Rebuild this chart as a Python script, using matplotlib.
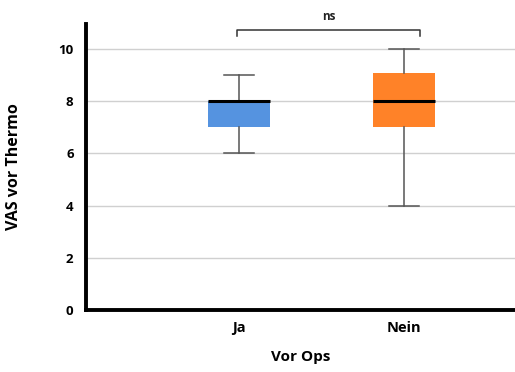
import matplotlib

matplotlib.use("Agg")
import matplotlib.pyplot as plt

plt.rcParams["font.family"] = ["Open Sans", "DejaVu Sans"]

groups = ["Ja", "Nein"]
whislo = [6, 4]
q1 = [7, 7]
med = [8, 8]
q3 = [8, 9.1]
whishi = [9, 10]
colors = ["#5593E0", "#FF8228"]
yticks = [0, 2, 4, 6, 8, 10]

fig = plt.figure(figsize=(5.15, 3.72), dpi=100)
ax = fig.add_axes([0.167, 0.167, 0.833, 0.768])

stats = []
for i, g in enumerate(groups):
    stats.append({"label": g, "whislo": whislo[i], "q1": q1[i], "med": med[i],
                  "q3": q3[i], "whishi": whishi[i], "fliers": []})

bp = ax.bxp(stats, positions=[1, 2], widths=0.38, patch_artist=True,
            showfliers=False,
            boxprops=dict(linewidth=0),
            medianprops=dict(color="black", linewidth=2.2),
            whiskerprops=dict(color="#555555", linewidth=1.1),
            capprops=dict(color="#555555", linewidth=1.1),
            capwidths=0.18, zorder=3)
for patch, c in zip(bp["boxes"], colors):
    patch.set_facecolor(c)
    patch.set_edgecolor(c)

ax.set_xlim(0.073, 2.673)
ax.set_ylim(0, 10.96)
ax.set_yticks(yticks)
ax.set_yticklabels([str(t) for t in yticks], fontweight="bold", fontsize=9.5)
ax.set_xticks([1, 2])
ax.set_xticklabels(groups, fontweight="bold", fontsize=10.5)
ax.tick_params(axis="y", length=0, pad=9)
ax.tick_params(axis="x", length=0, pad=8)
ax.grid(axis="y", color="#D0D0D0", linewidth=1, zorder=0)
ax.set_axisbelow(True)

for s in ["top", "right"]:
    ax.spines[s].set_visible(False)
ax.spines["left"].set_linewidth(2.8)
ax.spines["bottom"].set_linewidth(2.8)

ax.set_ylabel("VAS vor Thermo", fontweight="bold", fontsize=11.5, labelpad=26)
ax.set_xlabel("Vor Ops", fontweight="bold", fontsize=11, labelpad=11)

# significance bracket
yb = 10.75
ax.plot([0.99, 0.99, 2.1, 2.1], [yb - 0.25, yb, yb, yb - 0.25], color="#333333",
        linewidth=1.1, clip_on=False)
ax.text(1.545, yb + 0.25, "ns", ha="center", va="bottom", fontsize=8.5,
        fontweight="bold", color="#222222")

fig.savefig("out.png", dpi=100)
